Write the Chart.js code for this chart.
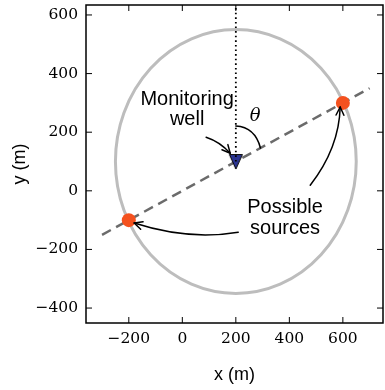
<!DOCTYPE html>
<html>
<head>
<meta charset="utf-8">
<script src="https://cdn.jsdelivr.net/npm/chart.js@4.4.0/dist/chart.umd.min.js"></script>
<style>
  html, body { margin: 0; padding: 0; background: #fff; }
  canvas { display: block; }
</style>
</head>
<body>
<canvas id="chart" width="385" height="390"></canvas>
<script>
// tick values
const xTicks = [-200, 0, 200, 400, 600];
const yTicks = [-400, -200, 0, 200, 400, 600];

// monitoring well, possible sources, the line through them
const wellX = [200];
const wellY = [100];
const sourceX = [-200, 600];
const sourceY = [-100, 300];
const lineX = [-300, 700];
const lineY = [-150, 350];
const verticalX = [200, 200];
const verticalY = [100, 634];

// circle of possible source locations
const circleCenter = [200, 100];
const circleRadius = 450;

const toPoints = (xs, ys) => xs.map((x, i) => ({ x: x, y: ys[i] }));
const fmt = v => (v < 0 ? '\u2212' + Math.abs(v) : String(v));

// downward triangle marker
const tri = document.createElement('canvas');
tri.width = 16;
tri.height = 17;
const tc = tri.getContext('2d');
tc.beginPath();
tc.moveTo(1.5, 1.5);
tc.lineTo(14.5, 1.5);
tc.lineTo(8, 16);
tc.closePath();
tc.fillStyle = '#2b3592';
tc.fill();
tc.lineWidth = 1;
tc.strokeStyle = '#000';
tc.stroke();

const arrows = [
  { from: [89, 183], via: [142, 167], to: [179, 128], head: true },
  { from: [478, 19], via: [586, 146], to: [590, 286], head: true },
  { from: [209, -141], via: [22, -170], to: [-180, -110], head: true },
  { from: [200, 221], via: [272, 217], to: [292, 146], head: false },
];

const labels = [
  { text: 'Monitoring', at: [18, 292], font: '20px "Liberation Sans"' },
  { text: 'well', at: [18, 224], font: '20px "Liberation Sans"' },
  { text: 'Possible', at: [384, -77], font: '20px "Liberation Sans"' },
  { text: 'sources', at: [384, -146], font: '20px "Liberation Sans"' },
  { text: '\u03b8', at: [272, 238], font: 'italic 18px "DejaVu Serif"' },
];

const annotations = {
  id: 'annotations',
  beforeDatasetsDraw(chart) {
    const { ctx, scales: { x, y } } = chart;
    const cx = x.getPixelForValue(circleCenter[0]);
    const cy = y.getPixelForValue(circleCenter[1]);
    const rx = Math.abs(x.getPixelForValue(circleCenter[0] + circleRadius) - cx);
    const ry = Math.abs(y.getPixelForValue(circleCenter[1] + circleRadius) - cy);
    ctx.save();
    ctx.beginPath();
    ctx.ellipse(cx, cy, rx, ry, 0, 0, Math.PI * 2);
    ctx.lineWidth = 3;
    ctx.strokeStyle = '#bdbdbd';
    ctx.stroke();
    ctx.restore();
  },
  afterDatasetsDraw(chart) {
    const { ctx, scales: { x, y } } = chart;
    const px = p => [x.getPixelForValue(p[0]), y.getPixelForValue(p[1])];
    ctx.save();
    ctx.strokeStyle = '#000';
    ctx.lineWidth = 1.5;
    ctx.lineCap = 'round';
    arrows.forEach(a => {
      const s = px(a.from), c = px(a.via), e = px(a.to);
      ctx.beginPath();
      ctx.moveTo(s[0], s[1]);
      ctx.quadraticCurveTo(c[0], c[1], e[0], e[1]);
      ctx.stroke();
      if (a.head) {
        const ang = Math.atan2(e[1] - c[1], e[0] - c[0]);
        ctx.beginPath();
        [-0.45, 0.45].forEach(d => {
          ctx.moveTo(e[0], e[1]);
          ctx.lineTo(e[0] - 9 * Math.cos(ang + d), e[1] - 9 * Math.sin(ang + d));
        });
        ctx.stroke();
      }
    });
    ctx.fillStyle = '#000';
    ctx.textAlign = 'center';
    ctx.textBaseline = 'alphabetic';
    labels.forEach(l => {
      const p = px(l.at);
      ctx.font = l.font;
      ctx.fillText(l.text, p[0], p[1]);
    });
    ctx.restore();
  },
  afterDraw(chart) {
    const { ctx, chartArea: a, scales: { x, y } } = chart;
    ctx.save();
    ctx.strokeStyle = '#000';
    ctx.lineWidth = 1;
    ctx.beginPath();
    xTicks.forEach(v => {
      const p = x.getPixelForValue(v);
      ctx.moveTo(p, a.bottom); ctx.lineTo(p, a.bottom - 6);
      ctx.moveTo(p, a.top); ctx.lineTo(p, a.top + 6);
    });
    yTicks.forEach(v => {
      const p = y.getPixelForValue(v);
      ctx.moveTo(a.left, p); ctx.lineTo(a.left + 6, p);
      ctx.moveTo(a.right, p); ctx.lineTo(a.right - 6, p);
    });
    ctx.stroke();
    ctx.lineWidth = 1.5;
    ctx.strokeRect(a.left, a.top, a.right - a.left, a.bottom - a.top);
    ctx.restore();
  }
};

new Chart(document.getElementById('chart'), {
  type: 'scatter',
  data: {
    datasets: [
      {
        data: toPoints(verticalX, verticalY),
        showLine: true,
        borderColor: '#000',
        borderWidth: 1.8,
        borderDash: [1.6, 3],
        pointRadius: 0,
      },
      {
        data: toPoints(wellX, wellY),
        pointStyle: tri,
        pointRadius: 8,
      },
      {
        data: toPoints(sourceX, sourceY),
        pointStyle: 'circle',
        pointRadius: 7,
        backgroundColor: '#f4511e',
        borderColor: '#f4511e',
        borderWidth: 0,
      },
      {
        data: toPoints(lineX, lineY),
        showLine: true,
        borderColor: '#6b6b6b',
        borderWidth: 2.5,
        borderDash: [10, 6],
        pointRadius: 0,
      },
    ],
  },
  options: {
    responsive: false,
    animation: false,
    devicePixelRatio: 1,
    layout: { autoPadding: false, padding: { top: 5, right: 2, left: 0, bottom: 0 } },
    plugins: { legend: { display: false }, tooltip: { enabled: false } },
    scales: {
      x: {
        type: 'linear',
        min: -360,
        max: 750,
        afterBuildTicks: s => { s.ticks = xTicks.map(v => ({ value: v })); },
        afterFit: s => { s.height = 67; s.paddingLeft = 0; s.paddingRight = 0; },
        grid: { display: false, drawTicks: false },
        border: { display: false },
        ticks: {
          padding: 7,
          color: '#000',
          maxRotation: 0,
          autoSkip: false,
          font: { family: 'DejaVu Serif', size: 15.5 },
          callback: fmt,
        },
        title: {
          display: true,
          text: 'x (m)',
          color: '#000',
          font: { family: 'Liberation Sans', size: 18 },
          padding: { top: 0, bottom: 4 },
        },
      },
      y: {
        type: 'linear',
        min: -451,
        max: 634,
        afterBuildTicks: s => { s.ticks = yTicks.map(v => ({ value: v })); },
        afterFit: s => { s.width = 86; s.paddingTop = 0; s.paddingBottom = 0; },
        grid: { display: false, drawTicks: false },
        border: { display: false },
        ticks: {
          padding: 8,
          color: '#000',
          autoSkip: false,
          font: { family: 'DejaVu Serif', size: 15.5 },
          callback: fmt,
        },
        title: {
          display: true,
          text: 'y (m)',
          color: '#000',
          font: { family: 'Liberation Sans', size: 18 },
          padding: { top: 9, bottom: 0 },
        },
      },
    },
  },
  plugins: [annotations],
});
</script>
</body>
</html>
